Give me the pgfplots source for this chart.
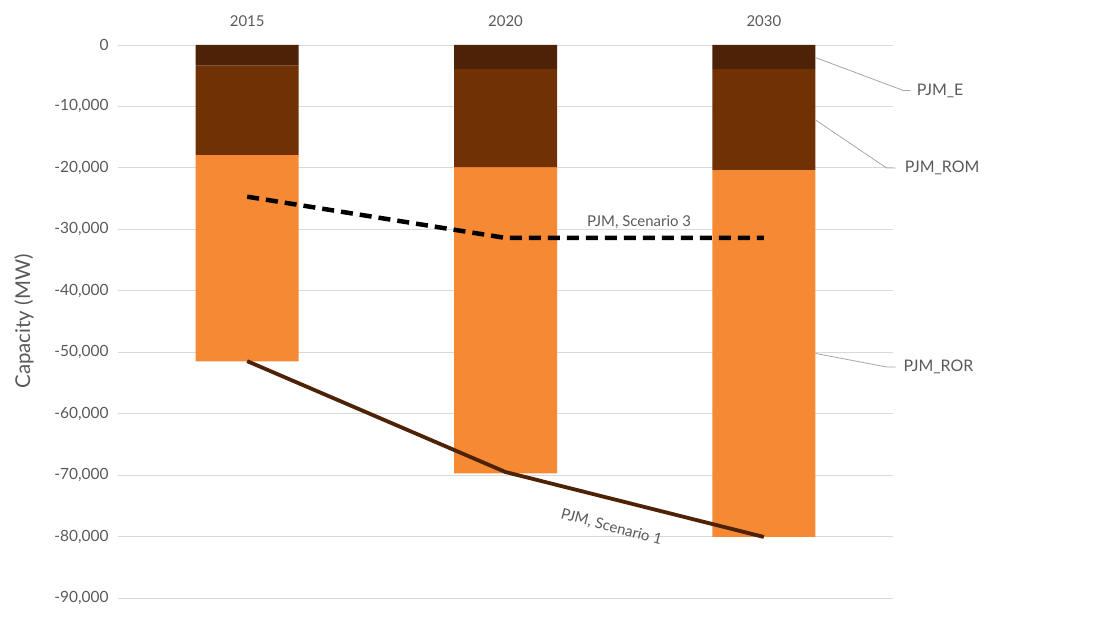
\documentclass[border=0pt]{standalone}
\usepackage{fontspec}
\setmainfont{Lato}
\usepackage{pgfplots}
\pgfplotsset{compat=1.18}
\usepackage{pgfplotstable}

\definecolor{pjmE}{HTML}{4D2206}
\definecolor{pjmROM}{HTML}{703104}
\definecolor{pjmROR}{HTML}{F68933}
\definecolor{gridgray}{HTML}{D9D9D9}
\definecolor{txtgray}{HTML}{595959}
\definecolor{leader}{HTML}{A6A6A6}

% segment sizes (MW), stacked downwards
\pgfplotstableread{
x  E      ROM     ROR
0  -3370  -14530  -33580
1  -3900  -15960  -49840
2  -3900  -16440  -59730
}\bars

% PJM scenario totals
\pgfplotstableread{
x  sc3     sc1
0  -24690  -51450
1  -31400  -69500
2  -31400  -80070
}\lines

\pgfplotsset{
  common/.style={
    at={(118bp,45bp)}, anchor=south west,
    scale only axis, width=775bp, height=553bp,
    xmin=-0.5, xmax=2.5, ymin=-90000, ymax=0,
    axis line style={draw=none}, tick style={draw=none},
    clip=false,
  },
}

\begin{document}
\begin{tikzpicture}
\useasboundingbox (0,0) rectangle (1105bp,643bp);

\begin{axis}[common,
  ybar stacked, bar width=103bp,
  ymajorgrids, grid style={gridgray, line width=0.9pt},
  ytick={0,-10000,...,-90000},
  scaled y ticks=false,
  xtick={0,1,2}, xticklabels={2015,2020,2030},
  xticklabel pos=top,
  x tick label style={font=\fontsize{15}{18}\selectfont, text=txtgray, yshift=15bp},
  y tick label style={font=\fontsize{15.5}{18}\selectfont, text=txtgray, xshift=-6bp},
  /pgf/number format/assume math mode=true,
  /pgf/number format/1000 sep={,},
  ylabel={Capacity (MW)},
  ylabel style={font=\fontsize{20.5}{24}\selectfont, text=txtgray, yshift=14bp},
]
\addplot[fill=pjmE, draw=none] table[x=x, y=E] {\bars};
\addplot[fill=pjmROM, draw=none] table[x=x, y=ROM] {\bars};
\addplot[fill=pjmROR, draw=none] table[x=x, y=ROR] {\bars};
\end{axis}

\begin{axis}[common, hide axis]
\addplot[black, line width=4.5bp, dash pattern=on 12bp off 7bp] table[x=x, y=sc3] {\lines};
\addplot[pjmE, line width=3.8bp] table[x=x, y=sc1] {\lines};

\node[font=\fontsize{15}{18}\selectfont, text=txtgray] at (axis cs:1.517,-28800) {PJM, Scenario 3};
\node[font=\fontsize{15}{18}\selectfont, text=txtgray, rotate=-15] at (axis cs:1.41,-78500) {PJM, Scenario 1};

% callout labels for the 2030 bar
\draw[leader, line width=0.8pt] (axis cs:2.2,-2050) -- (axis cs:2.541,-7420) -- (axis cs:2.568,-7420);
\draw[leader, line width=0.8pt] (axis cs:2.2,-12200) -- (axis cs:2.475,-20020) -- (axis cs:2.51,-20020);
\draw[leader, line width=0.8pt] (axis cs:2.2,-50200) -- (axis cs:2.475,-52400) -- (axis cs:2.51,-52400);
\node[anchor=west, font=\fontsize{16}{19}\selectfont, text=txtgray, inner sep=0pt] at (axis cs:2.592,-7420) {PJM\_E};
\node[anchor=west, font=\fontsize{16}{19}\selectfont, text=txtgray, inner sep=0pt] at (axis cs:2.545,-20020) {PJM\_ROM};
\node[anchor=west, font=\fontsize{16}{19}\selectfont, text=txtgray, inner sep=0pt] at (axis cs:2.54,-52400) {PJM\_ROR};
\end{axis}
\end{tikzpicture}
\end{document}
